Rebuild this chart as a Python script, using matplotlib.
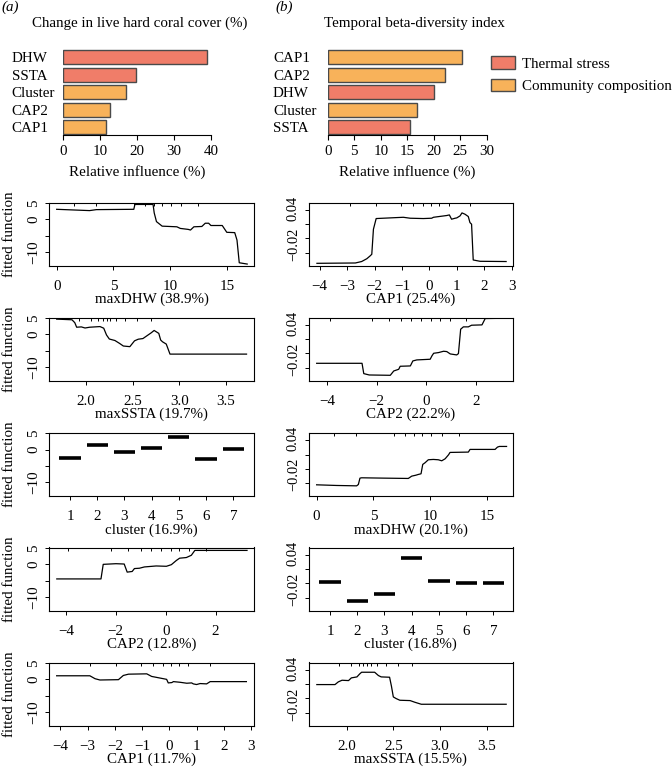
import numpy as np
import matplotlib.pyplot as plt
import matplotlib.transforms as mtrans
from matplotlib.patches import Patch

plt.rcParams['font.family'] = ['Liberation Serif', 'DejaVu Serif']
plt.rcParams['font.size'] = 10.8

W, H = 672, 768

# ---- relative influence (%) ----
coral_vars = ['DHW', 'SSTA', 'Cluster', 'CAP2', 'CAP1']
coral_infl = [38.9, 19.7, 16.9, 12.8, 11.7]
coral_kind = ['thermal', 'thermal', 'community', 'community', 'community']
beta_vars = ['CAP1', 'CAP2', 'DHW', 'Cluster', 'SSTA']
beta_infl = [25.4, 22.2, 20.1, 16.8, 15.5]
beta_kind = ['community', 'community', 'thermal', 'community', 'thermal']

# ---- partial dependence, live coral cover ----
coral_dhw_x = [0, 2.9, 3.5, 6.8, 6.9, 8.5, 8.6, 8.8, 9.3, 10.6, 10.9, 11.6, 11.8, 12.1,
               12.8, 13.1, 13.4, 13.6, 14.6, 15.0, 15.7, 15.9, 16.1, 16.8]
coral_dhw_y = [3.1, 2.7, 3.0, 3.1, 4.6, 4.6, 2.0, -0.7, -2.1, -2.3, -2.8, -3.1, -3.3, -2.3,
               -2.2, -1.2, -1.2, -1.9, -1.9, -4.0, -4.1, -6.4, -13.4, -13.8]
coral_ssta_x = [1.686, 1.85, 1.88, 1.90, 1.95, 1.99, 2.04, 2.15, 2.19, 2.22, 2.25, 2.31, 2.36,
                2.40, 2.47, 2.52, 2.56, 2.61, 2.65, 2.70, 2.73, 2.78, 2.80, 2.82, 2.86, 2.90, 3.72]
coral_ssta_y = [4.7, 4.5, 3.6, 2.2, 2.3, 1.96, 2.2, 2.4, 1.9, -0.2, -1.44, -1.9, -2.8,
                -3.6, -3.8, -2.0, -1.5, -1.3, -0.5, 0.5, 1.2, 0.3, -1.75, -2.3, -3.0, -6.1, -6.1]
coral_cluster = [-2.55, 1.33, -0.71, 0.61, 3.88, -3.06, 0.1]
coral_cap2_x = [-4.36, -2.59, -2.50, -1.99, -1.66, -1.54, -1.34, -1.25, -1.05, -0.85, -0.38,
                0.03, 0.23, 0.43, 0.56, 0.83, 1.03, 1.17, 3.26]
coral_cap2_y = [-4.5, -4.5, 0.0, 0.2, 0.1, -2.4, -2.2, -1.3, -1.2, -0.8, -0.5,
                -0.6, -0.1, 1.2, 1.9, 2.1, 2.8, 4.3, 4.3]
coral_cap1_x = [-4.14, -2.92, -2.73, -2.55, -1.87, -1.69, -1.50, -0.83, -0.65, -0.22, -0.10,
                -0.04, 0.09, 0.15, 0.39, 0.64, 0.82, 0.88, 1.00, 1.13, 1.37, 1.50, 2.83]
coral_cap1_y = [1.1, 1.1, 0.2, -0.2, -0.1, 1.2, 1.6, 1.7, 0.9, 0.2, 0.0,
                -1.1, -1.0, -0.7, -0.9, -1.2, -1.1, -1.4, -1.6, -1.3, -1.4, -0.7, -0.7]

# ---- partial dependence, temporal beta-diversity ----
beta_cap1_x = [-4.1, -2.7, -2.47, -2.28, -2.16, -2.10, -2.04, -1.94, -1.43, -0.95, -0.70, -0.22,
               0.085, 0.15, 0.63, 0.73, 0.81, 0.94, 1.0, 1.12, 1.19, 1.30, 1.42, 1.48, 1.54,
               1.60, 1.85, 2.8]
beta_cap1_y = [-0.0728, -0.0721, -0.069, -0.063, -0.057, -0.0536, -0.0004, 0.0223, 0.0237,
               0.025, 0.023, 0.0223, 0.023, 0.025, 0.0287, 0.030, 0.0209, 0.023, 0.0237, 0.028,
               0.0343, 0.0315, 0.0266, 0.0138, 0.0103, -0.0657, -0.0685, -0.069]
beta_cap2_x = [-4.42, -2.59, -2.52, -2.30, -1.45, -1.31, -1.11, -1.05, -0.64, -0.54, -0.38, 0.16,
               0.23, 0.30, 0.50, 0.70, 0.83, 0.97, 1.23, 1.30, 1.39, 1.50, 1.70, 1.83, 2.25,
               2.38, 3.24]
beta_cap2_y = [-0.0409, -0.0409, -0.0628, -0.0657, -0.0664, -0.0572, -0.0536, -0.0472, -0.0465,
               -0.0359, -0.0337, -0.0323, -0.0252, -0.0196, -0.0181, -0.0153, -0.016, -0.021,
               -0.0231, -0.0203, 0.0315, 0.0365, 0.0365, 0.04, 0.0407, 0.0542, 0.0549]
beta_dhw_x = [0, 1.76, 3.52, 3.67, 3.81, 3.96, 5.87, 8.06, 8.36, 8.74, 8.94, 9.18, 9.33, 9.53,
              9.82, 10.26, 10.7, 11.0, 11.3, 11.6, 11.73, 13.34, 13.49, 14.66, 15.69, 15.9,
              16.07, 16.7]
beta_dhw_y = [-0.0543, -0.0557, -0.0565, -0.0536, -0.0401, -0.0394, -0.0401, -0.0408, -0.0359,
              -0.0338, -0.0323, -0.0309, -0.011, -0.0075, -0.0011, -0.0004, -0.0011, -0.0033,
              0.001, 0.0095, 0.0145, 0.0152, 0.0209, 0.0209, 0.0209, 0.0258, 0.0272, 0.0272]
beta_cluster = [-0.0167, -0.0572, -0.0423, 0.0336, -0.0139, -0.0196, -0.0196]
beta_ssta_x = [1.68, 1.875, 1.91, 1.95, 2.02, 2.05, 2.11, 2.14, 2.16, 2.30, 2.34, 2.37, 2.46,
               2.48, 2.50, 2.53, 2.57, 2.68, 2.73, 2.80, 3.71]
beta_ssta_y = [0.0095, 0.0095, 0.0152, 0.0187, 0.018, 0.0237, 0.0258, 0.0322, 0.0357, 0.0357,
               0.0287, 0.0258, 0.0251, 0.006, -0.0167, -0.0202, -0.0238, -0.0245, -0.028,
               -0.0323, -0.0323]

cluster_ids = [1, 2, 3, 4, 5, 6, 7]

# deciles shown as rug on top
rug_dhw = [1.5, 3.5, 5.0, 6.8, 7.8, 8.6, 9.3, 10.1, 11.0, 12.5]
rug_ssta = [1.92, 2.05, 2.13, 2.18, 2.22, 2.26, 2.32, 2.42, 2.55, 2.7]
rug_cap1 = [-2.9, -1.95, -1.05, -0.6, -0.25, 0.05, 0.35, 0.7, 1.0, 1.5]
rug_cap2 = [-3.9, -2.2, -1.5, -1.0, -0.6, -0.2, 0.2, 0.55, 0.95, 1.6]

thermal = '#F07D69'
community = '#F8B25A'
colmap = {'thermal': thermal, 'community': community}


def box(l, t, r, b):
    return [l / W, 1 - b / H, (r - l) / W, (b - t) / H]


fig = plt.figure(figsize=(W / 100, H / 100), dpi=100)


def bar_panel(rect, names, vals, kinds, xmax, ticks, labpad):
    ax = fig.add_axes(box(*rect))
    pos = np.arange(len(names))[::-1]
    ax.barh(pos, vals, height=0.8, color=[colmap[k] for k in kinds],
            edgecolor='#4a4a4a', linewidth=1.0)
    ax.set_xlim(0, xmax)
    ax.set_ylim(-0.457, 4.686)
    ax.set_yticks(pos, names)
    for s in ['top', 'right', 'left']:
        ax.spines[s].set_visible(False)
    ax.spines['bottom'].set_bounds(0, xmax)
    ax.tick_params(axis='y', length=0, pad=labpad)
    for t in ax.get_yticklabels():
        t.set_ha('left')
    ax.set_xticks(ticks)
    ax.tick_params(axis='x', length=3.6, pad=3.5)
    ax.set_xlabel('Relative influence (%)')
    ax.xaxis.set_label_coords(0.5, -0.33)
    return ax


bar_panel((63, 45, 211, 135), coral_vars, coral_infl, coral_kind, 40, [0, 10, 20, 30, 40], 37)
axb = bar_panel((327.8, 45, 486.7, 135), beta_vars, beta_infl, beta_kind, 30,
                [0, 5, 10, 15, 20, 25, 30], 39.5)

fig.text(139.8 / W, 1 - 16.5 / H, 'Change in live hard coral cover (%)', ha='center', va='top')
fig.text(414 / W, 1 - 16.5 / H, 'Temporal beta-diversity index', ha='center', va='top')
fig.text(1.5 / W, 1 - 1 / H, '(a)', style='italic', va='top')
fig.text(275 / W, 1 - 1 / H, '(b)', style='italic', va='top')

axb.legend(handles=[Patch(facecolor=thermal, edgecolor='#4a4a4a', label='Thermal stress'),
                    Patch(facecolor=community, edgecolor='#4a4a4a', label='Community composition')],
           loc='upper left', bbox_to_anchor=(491 / W, 1 - 56.5 / H), bbox_transform=fig.transFigure,
           frameon=False, borderpad=0, borderaxespad=0, handlelength=1.6, handleheight=0.94,
           handletextpad=0.47, labelspacing=0.5)

tops = [202.5, 317.5, 432.7, 547.5, 662.5]
ph = 63.5


def pd_panel(left, right, top, xlim, ylim, yticks, ylabs, xticks, xlabel,
             x=None, y=None, cluster=None, rug=None, ylab=False, xfmt=None, yshift=None):
    ax = fig.add_axes(box(left, top, right, top + ph))
    if cluster is not None:
        c = np.array(cluster_ids)
        ax.hlines(cluster, c - 0.39, c + 0.39, color='black', lw=2.6)
    else:
        ax.plot(x, y, color='black', lw=0.9)
    ax.set_xlim(*xlim)
    ax.set_ylim(*ylim)
    ax.set_xticks(xticks)
    if xfmt:
        ax.set_xticklabels([xfmt % v for v in xticks])
    if rug is not None:
        ax.set_xticks(rug, minor=True)
        ax.tick_params(axis='x', which='minor', bottom=False, top=True, direction='in',
                       length=2.5, width=0.7)
    ax.tick_params(axis='both', which='major', length=3, width=0.7)
    ax.tick_params(axis='x', which='major', pad=7)
    ax.tick_params(axis='y', which='major', pad=3.5)
    if yshift is None:
        ax.set_yticks(yticks, ylabs)
        for t in ax.get_yticklabels():
            t.set_rotation(90)
            t.set_va('center')
    else:
        # labels placed by hand so that they sit like the R output
        ax.set_yticks(yticks, [''] * len(yticks))
        base = mtrans.blended_transform_factory(ax.transAxes, ax.transData)
        for v, lab, dy in zip(yticks, ylabs, yshift):
            if lab:
                tr = mtrans.offset_copy(base, fig=fig, x=-6.6, y=dy, units='points')
                ax.text(0, v, lab, transform=tr, rotation=90, ha='right', va='center',
                        fontsize=10.4)
    for s in ax.spines.values():
        s.set_linewidth(0.8)
    ax.set_xlabel(xlabel)
    ax.xaxis.set_label_coords(0.5, -27 / ph)
    if ylab:
        ax.set_ylabel('fitted function')
        ax.yaxis.set_label_coords((16.5 - left) / (right - left), 0.5)
    return ax


L = (49.3, 254)
R = (309, 512.7)
ylimL = (-14.4, 5.2)
ytL = [5, 0, -5, -10]
ylL = ['5', '0', '', '\u221210']
ylimR = (-0.0785, 0.0564)
ytR = [0.04, 0.01, -0.02, -0.05]
ylR = ['0.04', '', '\u22120.02', '']
shR = [1.4, 0, -4.3, 0]

pd_panel(*L, tops[0], (-0.65, 17.4), ylimL, ytL, ylL, [0, 5, 10, 15], 'maxDHW (38.9%)',
         coral_dhw_x, coral_dhw_y, rug=rug_dhw, ylab=True)
pd_panel(*L, tops[1], (1.607, 3.8), ylimL, ytL, ylL, [2.0, 2.5, 3.0, 3.5], 'maxSSTA (19.7%)',
         coral_ssta_x, coral_ssta_y, rug=rug_ssta, ylab=True, xfmt='%.1f')
pd_panel(*L, tops[2], (0.24, 7.76), ylimL, ytL, ylL, cluster_ids, 'cluster (16.9%)',
         cluster=coral_cluster, ylab=True)
pd_panel(*L, tops[3], (-4.66, 3.54), ylimL, ytL, ylL, [-4, -2, 0, 2], 'CAP2 (12.8%)',
         coral_cap2_x, coral_cap2_y, rug=rug_cap2, ylab=True)
pd_panel(*L, tops[4], (-4.41, 3.11), ylimL, ytL, ylL, [-4, -3, -2, -1, 0, 1, 2, 3], 'CAP1 (11.7%)',
         coral_cap1_x, coral_cap1_y, rug=rug_cap1, ylab=True)

pd_panel(*R, tops[0], (-4.39, 3.04), ylimR, ytR, ylR, [-4, -3, -2, -1, 0, 1, 2, 3], 'CAP1 (25.4%)',
         beta_cap1_x, beta_cap1_y, rug=rug_cap1, yshift=shR)
pd_panel(*R, tops[1], (-4.73, 3.49), ylimR, ytR, ylR, [-4, -2, 0, 2], 'CAP2 (22.2%)',
         beta_cap2_x, beta_cap2_y, rug=rug_cap2, yshift=shR)
pd_panel(*R, tops[2], (-0.67, 17.24), ylimR, ytR, ylR, [0, 5, 10, 15], 'maxDHW (20.1%)',
         beta_dhw_x, beta_dhw_y, rug=rug_dhw, yshift=shR)
pd_panel(*R, tops[3], (0.23, 7.71), ylimR, ytR, ylR, cluster_ids, 'cluster (16.8%)',
         cluster=beta_cluster, yshift=shR)
pd_panel(*R, tops[4], (1.596, 3.78), ylimR, ytR, ylR, [2.0, 2.5, 3.0, 3.5], 'maxSSTA (15.5%)',
         beta_ssta_x, beta_ssta_y, rug=rug_ssta, xfmt='%.1f', yshift=shR)

fig.savefig('out.png', dpi=100)
